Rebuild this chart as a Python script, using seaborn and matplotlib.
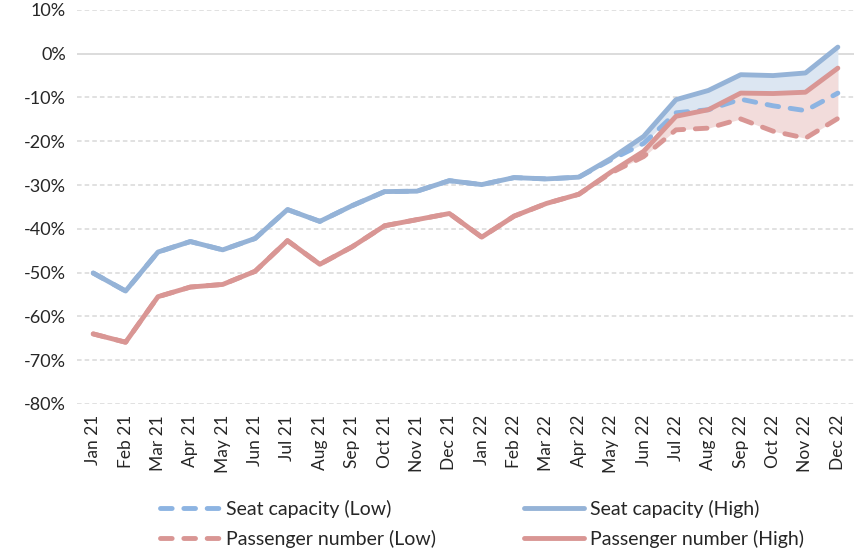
import numpy as np
import pandas as pd
import seaborn as sns
import matplotlib.pyplot as plt
from matplotlib.lines import Line2D

sns.set_style("white")
plt.rcParams["font.family"] = ["Lato", "DejaVu Sans"]

# Data (percent change vs 2019)
months = ["Jan 21", "Feb 21", "Mar 21", "Apr 21", "May 21", "Jun 21", "Jul 21", "Aug 21",
          "Sep 21", "Oct 21", "Nov 21", "Dec 21", "Jan 22", "Feb 22", "Mar 22", "Apr 22",
          "May 22", "Jun 22", "Jul 22", "Aug 22", "Sep 22", "Oct 22", "Nov 22", "Dec 22"]

seat_high = [-50.1, -54.2, -45.3, -42.9, -44.8, -42.2, -35.6, -38.3, -34.7, -31.5, -31.4, -29.0,
             -29.9, -28.3, -28.6, -28.2, -23.9, -18.9, -10.5, -8.4, -4.8, -5.0, -4.4, 1.5]
seat_low = [-50.1, -54.2, -45.3, -42.9, -44.8, -42.2, -35.6, -38.3, -34.7, -31.5, -31.4, -29.0,
            -29.9, -28.3, -28.6, -28.2, -24.2, -20.5, -13.5, -12.8, -10.4, -11.9, -13.0, -9.0]
pax_high = [-64.0, -65.9, -55.5, -53.3, -52.7, -49.7, -42.7, -48.1, -44.1, -39.3, -37.9, -36.5,
            -41.9, -37.1, -34.2, -32.1, -27.0, -22.3, -14.3, -12.8, -9.0, -9.1, -8.8, -3.3]
pax_low = [-64.0, -65.9, -55.5, -53.3, -52.7, -49.7, -42.7, -48.1, -44.1, -39.3, -37.9, -36.5,
           -41.9, -37.1, -34.2, -32.1, -27.2, -23.5, -17.4, -17.0, -14.9, -17.7, -19.3, -14.8]

yticks = list(range(-80, 11, 10))

df = pd.DataFrame({
    "pos": np.arange(len(months)),
    "month": months,
    "seat_low": seat_low,
    "seat_high": seat_high,
    "pax_low": pax_low,
    "pax_high": pax_high,
})

blue = "#95b3d7"
blue_dash = "#8db4e2"
red = "#d99694"
blue_fill = "#dce6f2"
red_fill = "#f2dcdb"

fig = plt.figure(figsize=(8.56, 5.5), dpi=100)
ax = fig.add_axes([0.09, 0.2655, 0.9077, 0.7165])

# gridlines: 0% solid, others dashed
for t in yticks:
    if t == 0:
        ax.axhline(t, color="#d9d9d9", lw=1.3, zorder=0)
    else:
        ax.axhline(t, color="#d9d9d9", lw=1.1, ls=(0, (3, 2)), zorder=0)

# shaded ranges
ax.fill_between(df["pos"], df["seat_low"], df["seat_high"], color=blue_fill, lw=0, zorder=1)
ax.fill_between(df["pos"], df["pax_low"], df["pax_high"], color=red_fill, lw=0, zorder=1)

lw = 3.5
dash = (0, (2.4, 2.4))
solid_kw = dict(lw=lw, solid_capstyle="round", solid_joinstyle="round")
dash_kw = dict(lw=lw, linestyle=dash, dash_capstyle="round", dash_joinstyle="round")

sns.lineplot(data=df, x="pos", y="pax_low", ax=ax, color=red, zorder=3, **dash_kw)
sns.lineplot(data=df, x="pos", y="seat_low", ax=ax, color=blue_dash, zorder=3, **dash_kw)
sns.lineplot(data=df, x="pos", y="pax_high", ax=ax, color=red, zorder=4, **solid_kw)
sns.lineplot(data=df, x="pos", y="seat_high", ax=ax, color=blue, zorder=4, **solid_kw)

ax.set_xlim(-0.5, len(months) - 0.5)
ax.set_ylim(-80, 10)
ax.set_yticks(yticks)
ax.set_yticklabels([f"{t}%" for t in yticks], fontsize=13)
ax.set_xticks(df["pos"])
ax.set_xticklabels(months, rotation=90, fontsize=12.5)
ax.tick_params(axis="both", length=0, pad=8)
ax.set_xlabel("")
ax.set_ylabel("")
for s in ax.spines.values():
    s.set_visible(False)

handles = [
    Line2D([], [], color=blue_dash, **dash_kw),
    Line2D([], [], color=red, **dash_kw),
    Line2D([], [], color=blue, **solid_kw),
    Line2D([], [], color=red, **solid_kw),
]
labels = ["Seat capacity (Low)", "Passenger number (Low)",
          "Seat capacity (High)", "Passenger number (High)"]
fig.legend(handles, labels, ncol=2, loc="upper left",
           bbox_to_anchor=(160 / 856, 1 - 500 / 550),
           frameon=False, fontsize=14, handlelength=3.1, handletextpad=0.3,
           columnspacing=4.5, labelspacing=0.6, borderpad=0, borderaxespad=0)

fig.savefig("out.png", dpi=100)
